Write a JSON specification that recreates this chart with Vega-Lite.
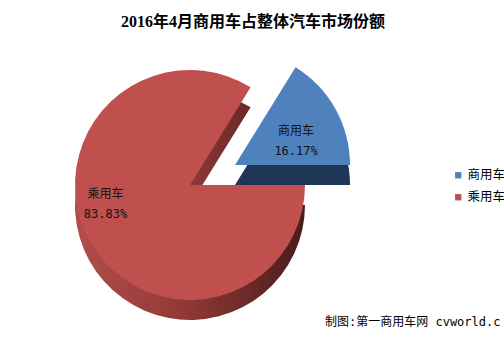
{
  "$schema": "https://vega.github.io/schema/vega-lite/v6.json",
  "width": 380,
  "height": 290,
  "padding": {"top": 14, "left": 0, "right": 0, "bottom": 4},
  "background": "white",
  "title": {
    "text": "2016年4月商用车占整体汽车市场份额",
    "frame": "bounds",
    "anchor": "middle",
    "font": "Liberation Serif, Noto Sans CJK SC",
    "fontSize": 16,
    "fontWeight": "bold",
    "color": "#000000",
    "offset": 10
  },
  "data": {
    "values": [
      {"category": "商用车", "value": 16.17},
      {"category": "乘用车", "value": 83.83}
    ]
  },
  "transform": [
    {"stack": "value", "groupby": [], "sort": [{"field": "category", "order": "ascending"}], "as": ["v0", "v1"]},
    {"calculate": "datum.category + '\\n' + format(datum.value, '.2f') + '%'", "as": "label"}
  ],
  "config": {
    "view": {"stroke": null},
    "legend": {
      "orient": "none",
      "legendX": 452,
      "legendY": 129,
      "padding": 0,
      "symbolType": "square",
      "symbolSize": 40,
      "symbolStrokeWidth": 0,
      "labelFont": "Noto Sans CJK SC",
      "labelFontSize": 12.5,
      "labelColor": "#000000",
      "rowPadding": 9,
      "labelOffset": 3
    }
  },
  "layer": [
    {
      "transform": [{"filter": "datum.category === '乘用车'"}],
      "mark": {
        "type": "arc",
        "outerRadius": 115,
        "yOffset": 20,
        "strokeWidth": 0,
        "color": {
          "gradient": "linear",
          "x1": 0, "y1": 0, "x2": 1, "y2": 0,
          "stops": [
            {"offset": 0, "color": "#B24E4B"},
            {"offset": 0.5, "color": "#8E3835"},
            {"offset": 1, "color": "#4A1B1B"}
          ]
        }
      },
      "encoding": {
        "theta": {"field": "v0", "type": "quantitative", "stack": null, "scale": {"domain": [0, 100], "range": [1.5708, 7.854]}},
        "theta2": {"field": "v1"}
      }
    },
    {
      "transform": [{"filter": "datum.category === '乘用车'"}],
      "mark": {"type": "arc", "outerRadius": 115, "strokeWidth": 0},
      "encoding": {
        "theta": {"field": "v0", "type": "quantitative", "stack": null, "scale": {"domain": [0, 100], "range": [1.5708, 7.854]}},
        "theta2": {"field": "v1"},
        "color": {
          "field": "category",
          "type": "nominal",
          "scale": {"domain": ["商用车", "乘用车"], "range": ["#4F81BD", "#C0504D"]},
          "legend": {"title": null}
        }
      }
    },
    {
      "transform": [{"filter": "datum.category === '商用车'"}],
      "mark": {"type": "arc", "outerRadius": 115, "xOffset": 45, "yOffset": 0, "strokeWidth": 0, "color": "#1F3656"},
      "encoding": {
        "theta": {"field": "v0", "type": "quantitative", "stack": null, "scale": {"domain": [0, 100], "range": [1.5708, 7.854]}},
        "theta2": {"field": "v1"}
      }
    },
    {
      "transform": [{"filter": "datum.category === '商用车'"}],
      "mark": {"type": "arc", "outerRadius": 115, "xOffset": 45, "yOffset": -20, "strokeWidth": 0},
      "encoding": {
        "theta": {"field": "v0", "type": "quantitative", "stack": null, "scale": {"domain": [0, 100], "range": [1.5708, 7.854]}},
        "theta2": {"field": "v1"},
        "color": {
          "field": "category",
          "type": "nominal",
          "scale": {"domain": ["商用车", "乘用车"], "range": ["#4F81BD", "#C0504D"]},
          "legend": {"title": null}
        }
      }
    },
    {
      "transform": [{"filter": "datum.category === '商用车'"}],
      "mark": {
        "type": "text",
        "theta": 1.06,
        "radius": 70,
        "xOffset": 45,
        "yOffset": -20,
        "lineBreak": "\n",
        "lineHeight": 20,
        "align": "center",
        "baseline": "middle",
        "font": "DejaVu Sans Mono, Noto Sans CJK SC",
        "fontSize": 12,
        "color": "#111111"
      },
      "encoding": {"text": {"field": "label"}}
    },
    {
      "transform": [{"filter": "datum.category === '乘用车'"}],
      "mark": {
        "type": "text",
        "theta": 4.61,
        "radius": 85,
        "lineBreak": "\n",
        "lineHeight": 20,
        "align": "center",
        "baseline": "middle",
        "font": "DejaVu Sans Mono, Noto Sans CJK SC",
        "fontSize": 12,
        "color": "#111111"
      },
      "encoding": {"text": {"field": "label"}}
    },
    {
      "data": {"values": [{"note": "制图:第一商用车网 cvworld.c"}]},
      "mark": {
        "type": "text",
        "x": {"expr": "width - 55"},
        "y": {"expr": "height - 8"},
        "align": "left",
        "baseline": "middle",
        "font": "DejaVu Sans Mono, Noto Sans CJK SC",
        "fontSize": 12,
        "color": "#000000"
      },
      "encoding": {"text": {"field": "note"}}
    }
  ]
}
